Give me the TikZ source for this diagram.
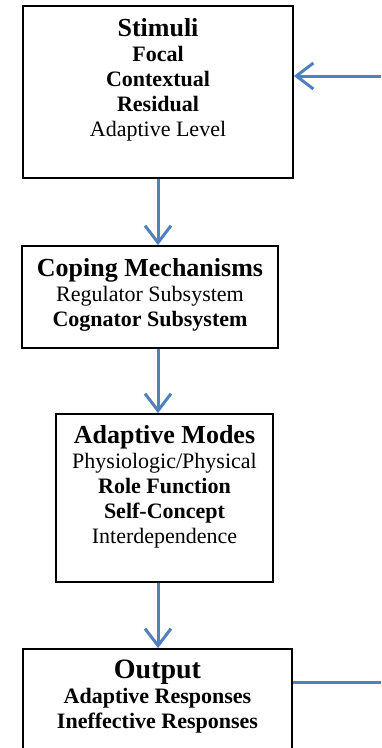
\documentclass[tikz,border=0pt]{standalone}
\usepackage{fontspec}
\setmainfont{Liberation Serif}
\usetikzlibrary{arrows.meta,positioning}
\definecolor{flowblue}{HTML}{4F81BD}
\tikzset{
  stage/.style={draw=black,line width=1.8pt,inner sep=0pt},
  stagetext/.style={anchor=north,align=center,inner sep=0pt,
    font=\fontsize{22}{25}\selectfont},
  flow/.style={draw=flowblue,line width=3pt,
    -{Straight Barb[length=17pt,width=26pt,line width=3pt]}},
  feed/.style={draw=flowblue,line width=3pt}}
\newcommand{\head}[1]{{\fontsize{26}{25}\selectfont\bfseries #1}}

\begin{document}
\begin{tikzpicture}[x=1pt,y=-1pt]
\useasboundingbox (0,0) rectangle (381,748);
\clip (0,0) rectangle (381,748);

\node[stage,minimum width=270pt,minimum height=172pt] (stimuli) at (158,92) {};
\node[stage,minimum width=256pt,minimum height=102pt] (coping) at (150,297) {};
\node[stage,minimum width=217pt,minimum height=168pt] (modes) at (164.5,498) {};
\node[stage,minimum width=269pt,minimum height=130pt] (output) at (157.5,714) {};

\node[stagetext] (stimulitxt) at ([yshift=-13pt]stimuli.north) {\head{Stimuli}\\
  \textbf{Focal}\\ \textbf{Contextual}\\ \textbf{Residual}\\ Adaptive Level};
\node[stagetext] (copingtxt) at ([yshift=-13pt]coping.north) {\head{Coping Mechanisms}\\
  Regulator Subsystem\\ \textbf{Cognator Subsystem}};
\node[stagetext] (modestxt) at ([yshift=-12pt]modes.north) {\head{Adaptive Modes}\\
  Physiologic/Physical\\ \textbf{Role Function}\\ \textbf{Self-Concept}\\ Interdependence};
\node[stagetext] (outputtxt) at ([yshift=-12pt]output.north) {{\fontsize{28}{25}\selectfont\bfseries Output}\\
  \textbf{Adaptive Responses}\\ \textbf{Ineffective Responses}};

\coordinate (fbin) at (381,76);\coordinate (fbout) at (381,682);
\draw[flow] (stimuli.south) -- (coping.north -| stimuli.south);
\draw[flow] (coping.south -| stimuli.south) -- (modes.north -| stimuli.south);
\draw[flow] (modes.south -| stimuli.south) -- (output.north -| stimuli.south);
\draw[flow] (fbin) -- (fbin -| stimuli.east);
\draw[feed] (fbout -| output.east) -- (fbout);
\end{tikzpicture}
\end{document}
